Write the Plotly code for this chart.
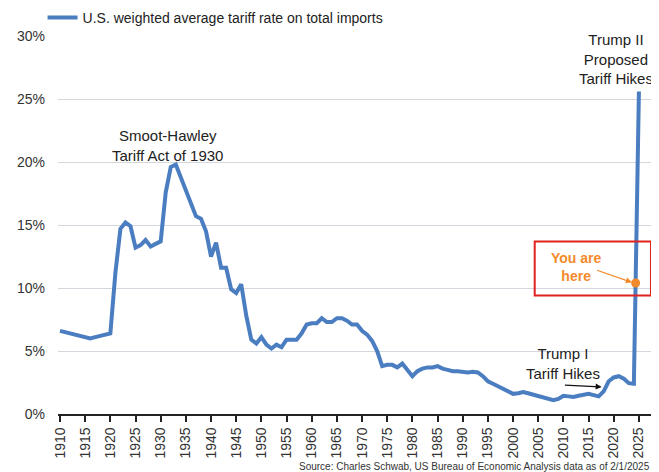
import plotly.graph_objects as go

years = list(range(1910, 2026))
tariff_rate = [
    6.6, 6.5, 6.4, 6.3, 6.2, 6.1, 6.0, 6.1, 6.2, 6.3,          # 1910-1919
    6.4, 11.2, 14.7, 15.2, 14.9, 13.2, 13.4, 13.8, 13.3, 13.5,  # 1920-1929
    13.7, 17.6, 19.6, 19.8, 18.8, 17.7, 16.8, 15.7, 15.5, 14.5, # 1930-1939
    12.5, 13.6, 11.6, 11.6, 9.9, 9.6, 10.3, 7.8, 5.9, 5.6,      # 1940-1949
    6.1, 5.5, 5.2, 5.5, 5.3, 5.9, 5.9, 5.9, 6.4, 7.1,           # 1950-1959
    7.2, 7.2, 7.6, 7.3, 7.3, 7.6, 7.6, 7.4, 7.1, 7.1,           # 1960-1969
    6.6, 6.3, 5.8, 5.0, 3.8, 3.9, 3.9, 3.7, 4.0, 3.5,           # 1970-1979
    3.0, 3.4, 3.6, 3.7, 3.7, 3.8, 3.6, 3.5, 3.4, 3.4,           # 1980-1989
    3.35, 3.3, 3.35, 3.3, 3.0, 2.6, 2.4, 2.2, 2.0, 1.8,         # 1990-1999
    1.6, 1.65, 1.75, 1.65, 1.55, 1.45, 1.35, 1.25, 1.1, 1.2,    # 2000-2009
    1.45, 1.4, 1.35, 1.45, 1.55, 1.6, 1.5, 1.4, 1.8, 2.6,       # 2010-2019
    2.9, 3.0, 2.8, 2.45, 2.4, 25.6,                             # 2020-2025
]
you_are_here_year = [2024.35]
you_are_here_rate = [10.4]

tick_years = list(range(1910, 2026, 5))
y_ticks = [0, 5, 10, 15, 20, 25, 30]
y_tick_labels = [f"{v}%" for v in y_ticks]

BLUE = "#4B7DC1"
ORANGE = "#F28A2C"
RED = "#E0231E"
TXT = "#333333"
FONT = "Liberation Sans, Arial, sans-serif"

fig = go.Figure()
fig.add_trace(go.Scatter(
    x=years, y=tariff_rate, mode="lines",
    line=dict(color=BLUE, width=4),
    name="U.S. weighted average tariff rate on total imports",
))
fig.add_trace(go.Scatter(
    x=you_are_here_year, y=you_are_here_rate, mode="markers",
    marker=dict(color=ORANGE, size=9), showlegend=False,
))

annotations = [
    dict(x=1931.3, y=19.65, xref="x", yref="y", text="Smoot-Hawley<br>Tariff Act of 1930",
         showarrow=False, yanchor="bottom", font=dict(size=15, color="#222")),
    dict(x=2020.4, y=25.8, xref="x", yref="y", text="Trump II<br>Proposed<br>Tariff Hikes",
         showarrow=False, yanchor="bottom", font=dict(size=15, color="#222")),
    dict(x=2010.0, y=2.38, xref="x", yref="y", text="Trump I<br>Tariff Hikes",
         showarrow=False, yanchor="bottom", font=dict(size=15, color="#222")),
    dict(x=2017.6, y=2.15, ax=2010.0, ay=2.3, xref="x", yref="y", axref="x", ayref="y",
         text="", showarrow=True, arrowhead=2, arrowsize=1, arrowwidth=1.2, arrowcolor="#111"),
    dict(x=2012.6, y=11.7, xref="x", yref="y", text="<b>You are<br>here</b>",
         showarrow=False, font=dict(size=14, color=ORANGE)),
    dict(x=2023.6, y=10.45, ax=2016.4, ay=11.45, xref="x", yref="y", axref="x", ayref="y",
         text="", showarrow=True, arrowhead=2, arrowsize=1, arrowwidth=1.2, arrowcolor=ORANGE),
    dict(x=1, y=-0.118, xref="paper", yref="paper", xanchor="right", yanchor="top",
         text="Source: Charles Schwab, US Bureau of Economic Analysis data as of 2/1/2025",
         showarrow=False, font=dict(size=10, color=TXT)),
]

fig.update_layout(
    width=651, height=464,
    margin=dict(l=50, r=7, t=28, b=58, autoexpand=False),
    paper_bgcolor="white", plot_bgcolor="white",
    font=dict(family=FONT, color=TXT, size=14),
    showlegend=True,
    legend=dict(orientation="h", x=-0.026, xanchor="left", y=1.048, yanchor="middle",
                font=dict(size=14, color="#222"), bgcolor="rgba(0,0,0,0)"),
    annotations=annotations,
    shapes=[dict(type="rect", xref="x", yref="y", x0=2004.3, x1=2027.4, y0=9.4, y1=13.7,
                 line=dict(color=RED, width=2), fillcolor="rgba(0,0,0,0)")],
)
fig.update_xaxes(
    range=[1909.6, 2027.6], tickvals=tick_years, ticktext=[str(y) for y in tick_years],
    tickangle=-90, ticks="outside", ticklen=6, tickcolor="#222", tickwidth=1.5,
    showline=True, linecolor="#222", linewidth=1.5, showgrid=False, zeroline=False,
    tickfont=dict(size=14, color=TXT), automargin=False,
)
fig.update_yaxes(
    range=[0, 30], tickvals=y_ticks, ticktext=y_tick_labels,
    showgrid=True, gridcolor="#D3D8DE", gridwidth=1, zeroline=False, showline=False,
    ticks="", ticklabelstandoff=12, tickfont=dict(size=14, color=TXT), automargin=False,
)

fig.write_html("out.html")
